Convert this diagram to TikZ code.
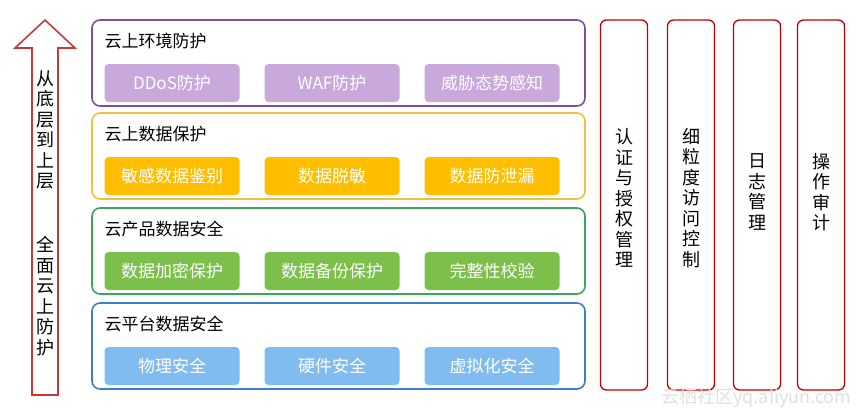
\documentclass[tikz,border=0pt]{standalone}
\usepackage{fontspec}
\setmainfont{Noto Sans CJK SC}
\begin{document}
\begin{tikzpicture}[x=1pt,y=-1pt,
 layer/.style={draw=#1,line width=1.6pt,rounded corners=8pt},
 sub/.style={fill=#1,rounded corners=4pt,minimum width=135pt,minimum height=38pt,text=white,font=\fontsize{17}{17}\selectfont},
 ttl/.style={anchor=west,font=\fontsize{17}{17}\selectfont},
 col/.style={draw=red!75!black,line width=1.3pt,rounded corners=6pt,minimum width=47pt,minimum height=370pt},
 vt/.style={align=center,font=\fontsize{18}{20.5}\selectfont}]
\useasboundingbox (0,0) rectangle (861,415);
\definecolor{pu}{HTML}{7B4FA0}\definecolor{pul}{HTML}{C9A8DC}
\definecolor{ye}{HTML}{F0C040}\definecolor{yel}{HTML}{FFBF00}
\definecolor{gr}{HTML}{3BA55C}\definecolor{grl}{HTML}{7CC04B}
\definecolor{bl}{HTML}{3A7FC8}\definecolor{bll}{HTML}{80BCEF}
\definecolor{rd}{HTML}{C83A3A}
% arrow
\draw[rd,line width=1.6pt,fill=white] (32,395)--(32,48)--(15,48)--(45,20)--(75,48)--(58,48)--(58,395)--cycle;
\node[vt] (a1) at (45,130) {从\\底\\层\\到\\上\\层};
\node[vt] (a2) at (45,296) {全\\面\\云\\上\\防\\护};
% layers
\foreach \y/\c/\cl/\t/\a/\b/\cc [count=\i] in {20/pu/pul/云上环境防护/DDoS防护/WAF防护/威胁态势感知,
 113/ye/yel/云上数据保护/敏感数据鉴别/数据脱敏/数据防泄漏,
 208/gr/grl/云产品数据安全/数据加密保护/数据备份保护/完整性校验,
 303/bl/bll/云平台数据安全/物理安全/硬件安全/虚拟化安全}{
 \draw[layer=\c] (92,\y) rectangle (585,\y+86);
 \node[ttl] (t\i) at (101,\y+21) {\t};
 \node[sub=\cl] (s\i a) at (172,\y+63) {\a};
 \node[sub=\cl] (s\i b) at (332,\y+63) {\b};
 \node[sub=\cl] (s\i c) at (492,\y+63) {\cc};
}
% columns
\node[col] (c1) at (624,205) {};
\node[col] (c2) at (691,205) {};
\node[col] (c3) at (757,205) {};
\node[col] (c4) at (821,205) {};
\node[vt] (l1) at (624,198) {认\\证\\与\\授\\权\\管\\理};
\node[vt] (l2) at (691,198) {细\\粒\\度\\访\\问\\控\\制};
\node[vt] (l3) at (757,192) {日\\志\\管\\理};
\node[vt] (l4) at (821,192) {操\\作\\审\\计};
\node[text=black!12,font=\fontsize{18}{18}\selectfont,anchor=east] (wm) at (855,398) {云栖社区yq.aliyun.com};
\end{tikzpicture}
\end{document}
